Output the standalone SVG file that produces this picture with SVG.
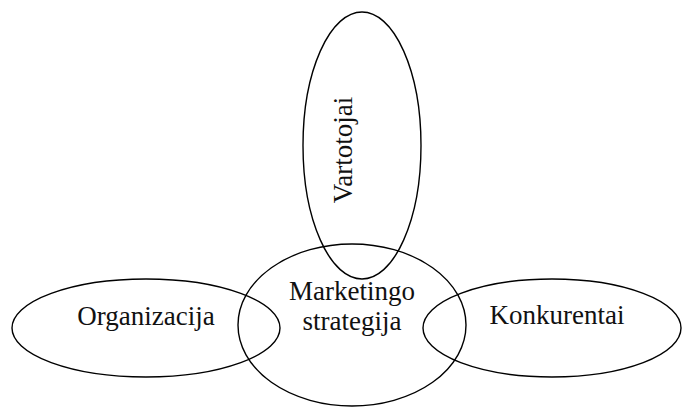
<svg xmlns="http://www.w3.org/2000/svg" width="683" height="408" viewBox="0 0 683 408">
<style>
ellipse{fill:none;stroke:#000;stroke-width:1.4}
text{font-family:"Liberation Serif","Times New Roman",serif;font-size:27px;fill:#111;text-anchor:middle}
</style>
<rect width="683" height="408" fill="#fff"/>
<g id="vartotojai">
<ellipse cx="362" cy="145.5" rx="59" ry="133.5"/>
<text transform="translate(352,150) rotate(-90)">Vartotojai</text>
</g>
<g id="marketingo">
<ellipse cx="352" cy="325" rx="114" ry="81"/>
<text x="352" y="300">Marketingo</text>
<text x="352" y="330">strategija</text>
</g>
<g id="organizacija">
<ellipse cx="146" cy="328" rx="134" ry="49"/>
<text x="146" y="325">Organizacija</text>
</g>
<g id="konkurentai">
<ellipse cx="552" cy="328" rx="129" ry="49"/>
<text x="557" y="324">Konkurentai</text>
</g>
<g id="connectors"/>
</svg>
